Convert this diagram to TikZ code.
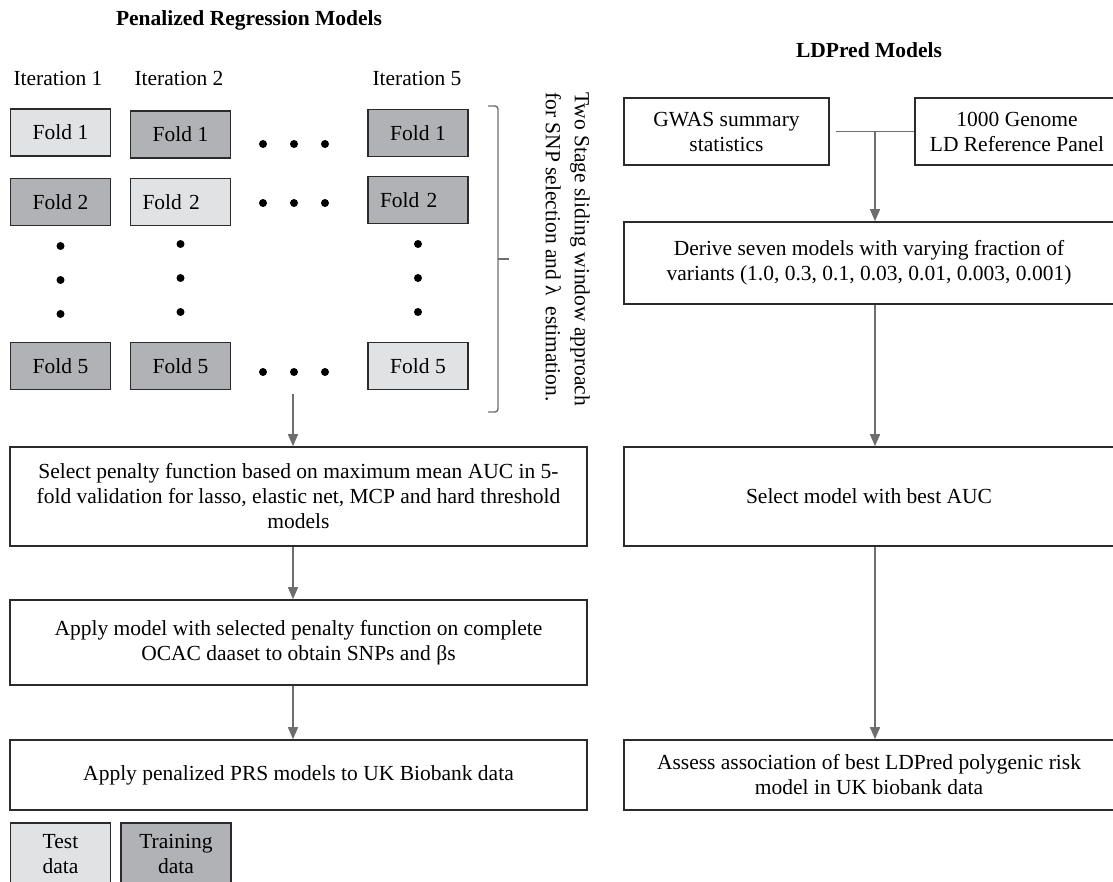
\documentclass[tikz,border=0pt]{standalone}
\usepackage{fontspec}
\setmainfont{Liberation Serif}
\usepackage{tikz}
\usetikzlibrary{positioning,calc,arrows.meta}
\definecolor{testgray}{HTML}{E1E2E4}
\definecolor{traingray}{HTML}{B1B2B5}
\definecolor{linegray}{HTML}{6E6E6E}
\definecolor{boxline}{HTML}{2B2B2B}

\begin{document}
\begin{tikzpicture}[x=1pt,y=-1pt,
  font=\fontsize{21.5}{25}\selectfont,
  fold/.style={draw=boxline,line width=1.6pt,minimum width=100pt,minimum height=47pt,inner sep=0pt},
  testfold/.style={fold,fill=testgray},
  trainfold/.style={fold,fill=traingray},
  shiftfold/.style={text width=76pt,align=left},
  stepbox/.style={draw=boxline,line width=1.6pt,align=center,inner sep=0pt},
  link/.style={draw=linegray,line width=1.4pt},
  arrow/.style={link,-{Triangle[width=10pt,length=12pt]}}]
  \useasboundingbox (0,0) rectangle (1113,882);
  % titles
  \node (penaltitle) [anchor=base,font=\fontsize{21.5}{25}\selectfont\bfseries] at (249,26) {Penalized Regression Models};
  \node (ldtitle) [anchor=base,font=\fontsize{21.5}{25}\selectfont\bfseries] at (869,58) {LDPred Models};
  % iterations
  \node (iter1) [anchor=base] at (58,86) {Iteration 1};
  \node (iter2) [anchor=base] at (179,86) {Iteration 2};
  \node (iter5) [anchor=base] at (417,86) {Iteration 5};
  \node (f11) [testfold] at (60.5,132.5) {Fold 1};
  \node (f12) [trainfold] at (60.5,202) {Fold 2};
  \node (f15) [trainfold] at (60.5,366) {Fold 5};
  \node (f21) [trainfold] at (180.5,134.5) {Fold 1};
  \node (f22) [testfold,shiftfold] at (180.5,202) {Fold 2};
  \node (f25) [trainfold] at (180.5,366) {Fold 5};
  \node (f51) [trainfold] at (418,133) {Fold 1};
  \node (f52) [trainfold,shiftfold] at (418,200) {Fold 2};
  \node (f55) [testfold] at (418,366) {Fold 5};
  % dots
  \fill (263,144) circle (4) (294,144) circle (4) (325,144) circle (4);
  \fill (263,203) circle (4) (294,203) circle (4) (325,203) circle (4);
  \fill (263,372) circle (4) (294,372) circle (4) (325,372) circle (4);
  \fill (60.5,246) circle (4) (60.5,280) circle (4) (60.5,314) circle (4);
  \fill (180.5,244) circle (4) (180.5,278) circle (4) (180.5,312) circle (4);
  \fill (418,244) circle (4) (418,278) circle (4) (418,312) circle (4);
  % brace and note
  \draw[link,rounded corners=3pt] (488,106) -- (498,106) -- (498,412) -- (488,412);
  \draw[link] (498,259) -- (509,259);
  \node (stage) [rotate=-90,anchor=north west,align=left,inner sep=0pt,font=\fontsize{21.5}{29}\selectfont] at (590,92)
    {Two Stage sliding window approach\\for SNP selection and λ\ \ estimation.};
  % left steps
  \node (select) [stepbox,minimum width=577pt,minimum height=99pt] at (298.5,496.5)
    {Select penalty function based on maximum mean AUC in 5-\\fold validation for lasso, elastic net, MCP and hard threshold\\models};
  \node (applymodel) [stepbox,minimum width=577pt,minimum height=85pt] at (298.5,642.5)
    {Apply model with selected penalty function on complete\\OCAC daaset to obtain SNPs and βs};
  \node (applyprs) [stepbox,minimum width=577pt,minimum height=70pt] at (298.5,775)
    {Apply penalized PRS models to UK Biobank data};
  \coordinate (foldend) at (293,394);
  \draw[arrow] (foldend) -- (foldend |- select.north);
  \draw[arrow] (foldend |- select.south) -- (foldend |- applymodel.north);
  \draw[arrow] (foldend |- applymodel.south) -- (foldend |- applyprs.north);
  % key
  \node (testkey) [testfold,minimum height=62pt,align=center] at (60.5,854) {Test\\data};
  \node (trainkey) [trainfold,minimum width=110pt,minimum height=62pt,align=center] at (176,854) {Training\\data};
  % right steps
  \node (gwas) [stepbox,minimum width=205pt,minimum height=67pt] at (726.5,131.5) {GWAS summary\\statistics};
  \node (genome) [stepbox,minimum width=204pt,minimum height=67pt] at (1017,131.5) {1000 Genome\\LD Reference Panel};
  \node (derive) [stepbox,minimum width=490pt,minimum height=82pt] at (869,263)
    {Derive seven models with varying fraction of\\variants (1.0, 0.3, 0.1, 0.03, 0.01, 0.003, 0.001)};
  \node (best) [stepbox,minimum width=490pt,minimum height=99pt] at (869,496.5) {Select model with best AUC};
  \node (assess) [stepbox,minimum width=490pt,minimum height=70pt] at (869,775)
    {Assess association of best LDPred polygenic risk\\model in UK biobank data};
  \coordinate (join) at (875,132);
  \draw[link] ([xshift=6pt]gwas.east) -- (genome.west);
  \draw[arrow] (join) -- (join |- derive.north);
  \draw[arrow] (join |- derive.south) -- (join |- best.north);
  \draw[arrow] (join |- best.south) -- (join |- assess.north);
\end{tikzpicture}
\end{document}
